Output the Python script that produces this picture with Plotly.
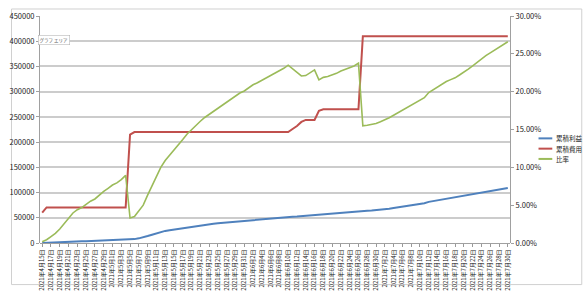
import pandas as pd
import plotly.graph_objects as go

# Categories: daily, 2021-04-15 .. 2021-07-30
dates = pd.date_range("2021-04-15", "2021-07-30", freq="D")
categories = [f"{d.year}年{d.month}月{d.day}日" for d in dates]

# 累積利益 (cumulative profit)
profit = [100, 300, 600, 900, 1300, 1800, 2300, 2800, 3100, 3300,
          3600, 3900, 4100, 4500, 4800, 5100, 5400, 5600, 5900, 6300,
          7100, 7700, 9200, 11000, 13900, 16500, 19400, 22000, 24000, 25500,
          26800, 28400, 30100, 31700, 33000, 34300, 35400, 36500, 37400, 38300,
          39200, 40000, 40900, 41800, 42700, 43600, 44200, 45100, 46000, 46600,
          47300, 48000, 48600, 49300, 50200, 50800, 51700, 52000, 52300, 53000,
          54000, 55000, 55800, 56500, 58000, 58300, 58800, 59400, 60200, 60800,
          61400, 62000, 63000, 63500, 63800, 64200, 64800, 65700, 66700, 67900,
          69200, 70500, 71800, 73100, 74500, 75800, 77300, 78700, 81500, 83000,
          84800, 86300, 87500, 88500, 89500, 91000, 92500, 94200, 96000, 98000,
          99800, 101500, 103000, 104500, 106000, 107500, 109000]

# 累積費用 (cumulative cost)
cost = [60000] + [70500] * 19 + [215000] + [220000] * 36 + \
       [226000, 232000, 240000, 244000, 244000, 244000, 262000] + \
       [265000] * 9 + [410000] * 34

# 比率 (ratio)
ratio = [0.0017, 0.0043, 0.0085, 0.0128, 0.0184, 0.0255, 0.0326, 0.0397, 0.0440, 0.0468,
         0.0511, 0.0553, 0.0582, 0.0638, 0.0681, 0.0723, 0.0766, 0.0794, 0.0837, 0.0894,
         0.0330, 0.0350, 0.0418, 0.0500, 0.0632, 0.0750, 0.0882, 0.1000, 0.1091, 0.1159,
         0.1218, 0.1291, 0.1368, 0.1441, 0.1500, 0.1559, 0.1609, 0.1659, 0.1700, 0.1741,
         0.1782, 0.1818, 0.1859, 0.1900, 0.1941, 0.1982, 0.2009, 0.2050, 0.2091, 0.2118,
         0.2150, 0.2182, 0.2209, 0.2241, 0.2282, 0.2309, 0.2350, 0.2301, 0.2254, 0.2208,
         0.2213, 0.2254, 0.2287, 0.2156, 0.2189, 0.2200, 0.2219, 0.2242, 0.2272, 0.2294,
         0.2317, 0.2340, 0.2377, 0.1549, 0.1556, 0.1566, 0.1580, 0.1602, 0.1627, 0.1656,
         0.1688, 0.1720, 0.1751, 0.1783, 0.1817, 0.1849, 0.1885, 0.1920, 0.1988, 0.2024,
         0.2068, 0.2105, 0.2134, 0.2159, 0.2183, 0.2220, 0.2256, 0.2298, 0.2341, 0.2390,
         0.2434, 0.2476, 0.2512, 0.2549, 0.2585, 0.2622, 0.2659]

series_names = ["累積利益", "累積費用", "比率"]
colors = ["#4F81BD", "#C0504D", "#9BBB59"]
widths = [2, 2, 1.6]

FONT = "Noto Sans CJK JP"
W, H = 586, 300
ML, MR, MT, MB = 32, 76, 9.5, 47.5
PW, PH = W - ML - MR, H - MT - MB


def px_x(x):
    return (x - ML) / PW


def px_y(y):
    return (H - MB - y) / PH


fig = go.Figure()
fig.add_trace(go.Scatter(x=categories, y=profit, name=series_names[0], mode="lines",
                         line=dict(color=colors[0], width=widths[0]), showlegend=False))
fig.add_trace(go.Scatter(x=categories, y=cost, name=series_names[1], mode="lines",
                         line=dict(color=colors[1], width=widths[1]), showlegend=False))
fig.add_trace(go.Scatter(x=categories, y=ratio, name=series_names[2], mode="lines",
                         line=dict(color=colors[2], width=widths[2]), yaxis="y2",
                         showlegend=False))

tickcats = categories[::2]

fig.update_layout(
    width=W, height=H,
    margin=dict(l=ML, r=MR, t=MT, b=MB),
    paper_bgcolor="white", plot_bgcolor="white",
    font=dict(family=FONT, size=7, color="#222"),
    xaxis=dict(type="category", categoryorder="array", categoryarray=categories,
               range=[-0.5, len(categories) - 0.5],
               tickmode="array", tickvals=tickcats, ticktext=tickcats,
               tickangle=-90, tickfont=dict(size=6, color="#111"),
               showgrid=False, showline=False, ticks="outside", ticklen=3,
               tickcolor="#999", zeroline=False),
    yaxis=dict(range=[0, 450000], dtick=50000, tickformat="d",
               showgrid=True, gridcolor="#CCCCCC", gridwidth=1.5,
               showline=True, linecolor="#A0A0A0", linewidth=1,
               ticks="outside", ticklen=3, tickcolor="#A0A0A0",
               zeroline=True, zerolinecolor="#A0A0A0", zerolinewidth=1,
               tickfont=dict(size=7.5)),
    yaxis2=dict(range=[0, 0.30], dtick=0.05, tickformat=".2%", overlaying="y",
                side="right", showgrid=False, showline=True, linecolor="#A0A0A0",
                linewidth=1, ticks="outside", ticklen=3, tickcolor="#A0A0A0",
                zeroline=False, tickfont=dict(size=7.5)),
)

# outer chart-area frame
fig.add_shape(type="rect", xref="paper", yref="paper",
              x0=px_x(3), x1=px_x(583), y0=px_y(297), y1=px_y(2),
              line=dict(color="#D0D0D0", width=1), fillcolor="rgba(0,0,0,0)", layer="below")

# manual legend
leg_y = [140.5, 151.5, 162.5]
for name, col, yy in zip(series_names, colors, leg_y):
    fig.add_shape(type="line", xref="paper", yref="paper",
                  x0=px_x(539), x1=px_x(553), y0=px_y(yy), y1=px_y(yy),
                  line=dict(color=col, width=2))
    fig.add_annotation(xref="paper", yref="paper", x=px_x(555), y=px_y(yy),
                       text=name, showarrow=False, xanchor="left", yanchor="middle",
                       font=dict(size=6.5, color="#222", family=FONT))

# "グラフ エリア" tooltip box
fig.add_annotation(xref="paper", yref="paper", x=px_x(30), y=px_y(35.5),
                   text="グラフ エリア", showarrow=False, xanchor="left", yanchor="middle",
                   font=dict(size=4.5, color="#555", family=FONT),
                   bgcolor="white", bordercolor="#AAAAAA", borderwidth=0.5, borderpad=1)

fig.write_html("out.html")
